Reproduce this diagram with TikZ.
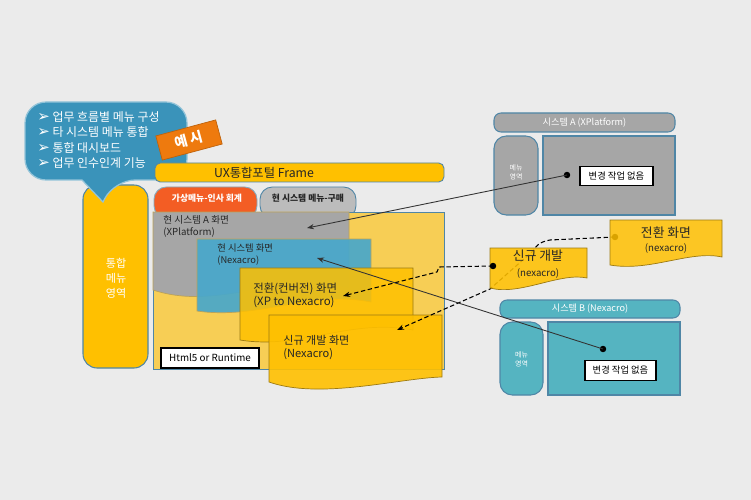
\documentclass[tikz,border=0pt]{standalone}
\usepackage{fontspec}
\setmainfont{Noto Sans CJK KR}
\newfontfamily\symfont{DejaVu Sans}
\usetikzlibrary{arrows.meta}
\definecolor{bgc}{HTML}{EBEBEB}
\definecolor{bubc}{HTML}{3A93BA}
\definecolor{tagc}{HTML}{EE7A0E}
\definecolor{ylw}{HTML}{FFC000}
\definecolor{lylw}{HTML}{F7CE55}
\definecolor{grc}{HTML}{A6A6A6}
\definecolor{blc}{HTML}{48A8CB}
\definecolor{tlc}{HTML}{55B4C1}
\definecolor{orc}{HTML}{F35D24}
\definecolor{edgec}{HTML}{4F86A6}
\definecolor{ydk}{HTML}{9C7A12}
\definecolor{txc}{HTML}{262626}

\begin{document}
\begin{tikzpicture}[x=0.02cm, y=-0.02cm, >={Stealth[length=4pt,width=3pt]},
  lbl/.style={inner sep=0pt, align=left, anchor=west, text=txc},
  dot/.style={circle, fill, inner sep=1.3pt},
  dashln/.style={dashed, dash pattern=on 2.5pt off 1.5pt, line width=0.6pt},
  nochg/.style={draw=black, line width=0.7pt, fill=white, inner sep=0pt, minimum height=0.39cm, font=\fontsize{5.3}{6}\selectfont}]
% background
\fill[bgc] (0,0) rectangle (751,500);
\useasboundingbox (0,0) rectangle (751,500);
% left menu
\draw[fill=ylw, draw=edgec, line width=0.6pt, rounded corners=8] (83,185) rectangle (148,368);
\node[text=white, align=center, font=\fontsize{6.3}{8.5}\selectfont] (menuL) at (116,278) {통합\\메뉴\\영역};
% callout
\draw[fill=bubc, draw=bubc!55!white, line width=0.7pt, rounded corners=12] (25,102) -- (187,102) -- (187,180) -- (114,180) [sharp corners] -- (103,202) -- (82,180) [rounded corners=12] -- (25,180) -- cycle;
\node[lbl, text=white, font=\fontsize{6.8}{8.6}\selectfont] (bubtext) at (37,140)
  {{\symfont\fontsize{8.5}{8.6}\selectfont ➢}\ 업무 흐름별 메뉴 구성\\
   {\symfont\fontsize{8.5}{8.6}\selectfont ➢}\ 타 시스템 메뉴 통합\\
   {\symfont\fontsize{8.5}{8.6}\selectfont ➢}\ 통합 대시보드\\
   {\symfont\fontsize{8.5}{8.6}\selectfont ➢}\ 업무 인수인계 기능};
\node[fill=tagc, draw=tagc!80!black, text=white, rotate=15, minimum width=1.24cm, minimum height=0.48cm, font=\bfseries\fontsize{8}{8}\selectfont] (tag) at (189,140) {예 시};
% frame bar and tabs
\draw[fill=ylw, draw=edgec, line width=0.5pt, rounded corners=3] (155,163) rectangle (444,182);
\node[text=txc, font=\fontsize{7}{8}\selectfont] (uxbar) at (264,172.5) {UX통합포털 Frame};
\draw[fill=orc, draw=edgec!70, line width=0.5pt, rounded corners=7] (154,187) rectangle (257,218);
\node[text=white, font=\bfseries\fontsize{5}{6}\selectfont] (tabHR) at (207,198.5) {가상메뉴-인사 회계};
\draw[fill=grc!75!white, draw=edgec, line width=0.5pt, rounded corners=7] (260,187) rectangle (356,218);
\node[text=txc, font=\bfseries\fontsize{5}{6}\selectfont] (tabBuy) at (308,198.5) {현 시스템 메뉴-구매};
% work area
\draw[fill=lylw, draw=edgec, line width=0.5pt] (153,212) rectangle (444,369);
% current system A screen
\draw[fill=grc, draw=ydk!70, line width=0.4pt] (153,212) -- (349,212) -- (349,288) .. controls (280,270) and (220,312) .. (153,290) -- cycle;
\node[lbl, font=\fontsize{5.5}{6.8}\selectfont] (scrA) at (163,226) {현 시스템 A 화면\\(XPlatform)};
% current system screen (nexacro)
\draw[fill=blc, fill opacity=0.92, draw=ydk!70, line width=0.4pt] (197,239) -- (371,239) -- (371,302) .. controls (310,290) and (258,320) .. (197,311) -- cycle;
\node[lbl, font=\fontsize{5.3}{6.8}\selectfont] (scrB) at (217,255) {현 시스템 화면\\(Nexacro)};
% converted screen
\draw[fill=ylw, fill opacity=0.85, draw=ydk, line width=0.4pt] (240,268) -- (413,268) -- (413,330) .. controls (350,318) and (300,350) .. (240,340) -- cycle;
\node[lbl, font=\fontsize{6.5}{7.4}\selectfont] (scrConv) at (253,295) {전환(컨버전) 화면\\(XP to Nexacro)};
% new screen
\draw[fill=ylw, fill opacity=0.9, draw=ydk, line width=0.4pt] (269,315) -- (442,315) -- (442,377) .. controls (400,378) and (320,400) .. (269,382) -- cycle;
\node[lbl, font=\fontsize{6.3}{7.4}\selectfont] (scrNew) at (283,348) {신규 개발 화면\\(Nexacro)};
% runtime
\node[draw=black, line width=0.7pt, fill=white, minimum width=1.96cm, minimum height=0.4cm, inner sep=0pt, font=\fontsize{5.6}{6}\selectfont] (html) at (210,358) {Html5 or Runtime};
% system A (XPlatform)
\draw[fill=grc, draw=edgec, line width=0.6pt, rounded corners=4] (494,113) rectangle (675,132);
\node[text=white, font=\fontsize{5.2}{6}\selectfont] (sysA) at (584.5,122.5) {시스템 A (XPlatform)};
\draw[fill=grc, draw=edgec, line width=0.6pt, rounded corners=7] (494,136) rectangle (538,215);
\node[text=white, align=center, font=\fontsize{4}{5}\selectfont] (menuA) at (516,172) {메뉴\\영역};
\draw[fill=grc, draw=edgec, line width=0.6pt] (543,136) rectangle (675,215);
\node[nochg, minimum width=1.46cm] (nochgA) at (616.5,176) {변경 작업 없음};
% system B (Nexacro)
\draw[fill=tlc, draw=edgec, line width=0.6pt, rounded corners=4] (500,300) rectangle (680,318);
\node[text=white, font=\fontsize{5.2}{6}\selectfont] (sysB) at (590,309) {시스템 B (Nexacro)};
\draw[fill=tlc, draw=edgec, line width=0.6pt, rounded corners=7] (500,322) rectangle (543,395);
\node[text=white, align=center, font=\fontsize{4}{5}\selectfont] (menuB) at (521.5,359) {메뉴\\영역};
\draw[fill=tlc, draw=edgec, line width=0.6pt] (548,322) rectangle (680,395);
\node[nochg, minimum width=1.42cm] (nochgB) at (620.5,370.5) {변경 작업 없음};
% end points
\node[dot] (dotA) at (567,175) {};
\node[dot] (dotB) at (603,349) {};
\node[dot] (dotT) at (615,237) {};
\coordinate (tgtA) at (307,228);
\coordinate (tgtB) at (317,258);
\coordinate (tgtConv) at (343,296);
\coordinate (tgtNew) at (397,330);
% dashed link from conversion box (under the boxes)
\draw[->, dashln] (dotT.center) -- (550,240) .. controls (539,242) and (536,246) .. (533,251) -- (490,289) -- (tgtNew);
% conversion screen box
\draw[fill=ylw, fill opacity=0.85, draw=ydk, line width=0.4pt] (610,220) -- (722,220) -- (722,257) .. controls (690,250) and (650,272) .. (610,265) -- cycle;
\node[text=txc, align=center, font=\fontsize{7.3}{8}\selectfont] (convT) at (666,233) {전환 화면};
\node[text=txc, font=\fontsize{5.5}{6}\selectfont] (convS) at (666,248) {(nexacro)};
% new development box
\draw[fill=ylw, fill opacity=0.88, draw=ydk, line width=0.4pt] (490,248) -- (587,248) -- (587,278) .. controls (560,272) and (520,296) .. (490,288) -- cycle;
\node[text=txc, font=\fontsize{7.3}{8}\selectfont] (newT) at (538,256) {신규 개발};
\node[text=txc, font=\fontsize{5.5}{6}\selectfont] (newS) at (538,273) {(nexacro)};
\node[dot] (dotN) at (493,266) {};
% links
\draw[->, dashln] (dotN.center) -- (439,267) -- (437,272) -- (tgtConv);
\draw[->, line width=0.5pt, black!80] (dotA.center) -- (tgtA);
\draw[->, line width=0.5pt, black!80] (dotB.center) -- (tgtB);
\end{tikzpicture}
\end{document}
